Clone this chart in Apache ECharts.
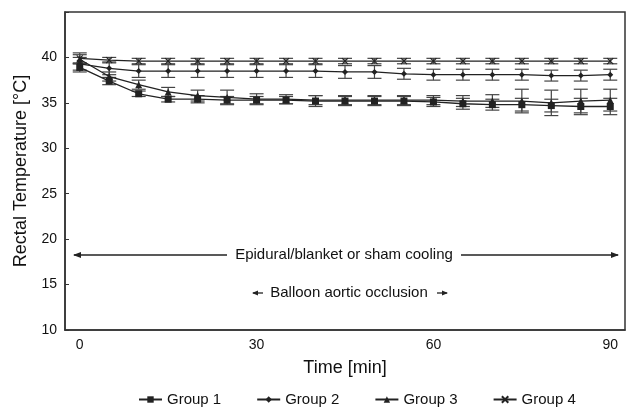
<!DOCTYPE html>
<html>
<head>
<meta charset="utf-8">
<script src="https://cdn.jsdelivr.net/npm/echarts@6/dist/echarts.min.js"></script>
<style>
  html, body { margin: 0; padding: 0; background: #fff; }
  #main { width: 630px; height: 407px; }
</style>
</head>
<body>
<div id="main"></div>
<script>
// time points (min)
var times = ['0', '5', '10', '15', '20', '25', '30', '35', '40', '45', '50', '55', '60', '65', '70', '75', '80', '85', '90'];

// mean rectal temperature per group
var group1 = [38.9, 37.4, 36.0, 35.4, 35.4, 35.3, 35.3, 35.3, 35.2, 35.2, 35.2, 35.2, 35.1, 34.9, 34.8, 34.8, 34.7, 34.6, 34.6];
var group2 = [39.3, 38.8, 38.5, 38.5, 38.5, 38.5, 38.5, 38.5, 38.5, 38.4, 38.4, 38.2, 38.1, 38.1, 38.1, 38.1, 38.0, 38.0, 38.1];
var group3 = [39.8, 37.9, 37.0, 36.2, 35.8, 35.6, 35.4, 35.4, 35.3, 35.3, 35.3, 35.3, 35.3, 35.2, 35.2, 35.2, 35.0, 35.2, 35.3];
var group4 = [39.9, 39.7, 39.6, 39.6, 39.6, 39.6, 39.6, 39.6, 39.6, 39.6, 39.6, 39.6, 39.6, 39.6, 39.6, 39.6, 39.6, 39.6, 39.6];

// standard deviations (error bars)
var sd1 = [0.5, 0.4, 0.3, 0.3, 0.4, 0.4, 0.4, 0.4, 0.6, 0.5, 0.5, 0.5, 0.5, 0.6, 0.6, 0.7, 0.7, 0.9, 0.9];
var sd2 = [0.7, 0.7, 0.7, 0.7, 0.7, 0.7, 0.7, 0.7, 0.7, 0.7, 0.7, 0.6, 0.6, 0.6, 0.6, 0.6, 0.6, 0.6, 0.6];
var sd3 = [0.5, 0.5, 0.5, 0.5, 0.6, 0.8, 0.6, 0.5, 0.5, 0.5, 0.5, 0.5, 0.5, 0.6, 0.7, 1.3, 1.4, 1.3, 1.2];
var sd4 = [0.6, 0.3, 0.3, 0.3, 0.3, 0.3, 0.3, 0.3, 0.3, 0.3, 0.3, 0.3, 0.3, 0.3, 0.3, 0.3, 0.3, 0.3, 0.3];

var yTicks = [10, 15, 20, 25, 30, 35, 40];

var ink = '#222';
var font = 'Liberation Sans, Arial, sans-serif';
var chart = echarts.init(document.getElementById('main'));

function errData(mean, sd) {
  var out = [];
  for (var i = 0; i < mean.length; i++) {
    out.push([i, mean[i] - sd[i], mean[i] + sd[i]]);
  }
  return out;
}

// vertical bar with caps
function renderErr(params, api) {
  var lo = api.coord([api.value(0), api.value(1)]);
  var hi = api.coord([api.value(0), api.value(2)]);
  var w = 7;
  var st = { stroke: '#444', lineWidth: 1.2 };
  return {
    type: 'group',
    children: [
      { type: 'line', shape: { x1: lo[0], y1: lo[1], x2: hi[0], y2: hi[1] }, style: st },
      { type: 'line', shape: { x1: lo[0] - w, y1: lo[1], x2: lo[0] + w, y2: lo[1] }, style: st },
      { type: 'line', shape: { x1: hi[0] - w, y1: hi[1], x2: hi[0] + w, y2: hi[1] }, style: st }
    ]
  };
}

function errSeries(mean, sd) {
  return {
    type: 'custom',
    renderItem: renderErr,
    data: errData(mean, sd),
    encode: { x: 0, y: [1, 2] },
    silent: true,
    z: 1
  };
}

function lineSeries(name, data, symbol, size, extra) {
  var s = {
    name: name,
    type: 'line',
    data: data,
    symbol: symbol,
    symbolSize: size,
    showAllSymbol: true,
    lineStyle: { color: ink, width: 1.3 },
    itemStyle: { color: ink },
    z: 3
  };
  if (extra) Object.assign(s, extra);
  return s;
}

var option = {
  backgroundColor: '#fff',
  animation: false,
  textStyle: { fontFamily: font, color: '#111' },
  grid: {
    left: 65, right: 5, top: 12, bottom: 77,
    show: true, borderColor: '#333', borderWidth: 1.5
  },
  legend: {
    top: 387,
    left: 133,
    itemWidth: 23,
    itemHeight: 8,
    itemGap: 35,
    textStyle: { fontFamily: font, fontSize: 15, color: '#111' },
    data: ['Group 1', 'Group 2', 'Group 3', 'Group 4']
  },
  xAxis: {
    type: 'category',
    data: times,
    boundaryGap: true,
    name: 'Time [min]',
    nameLocation: 'middle',
    nameGap: 29,
    nameTextStyle: { fontFamily: font, fontSize: 18, color: '#111' },
    axisLine: { lineStyle: { color: '#333', width: 1.5 } },
    axisTick: { inside: true, length: 4, interval: 0, lineStyle: { color: '#333' } },
    axisLabel: { interval: 5, fontSize: 14, color: '#111', margin: 8 }
  },
  yAxis: {
    type: 'value',
    min: 10,
    max: 45,
    interval: 5,
    name: 'Rectal Temperature [\u00B0C]',
    nameLocation: 'middle',
    nameGap: 31,
    nameTextStyle: { fontFamily: font, fontSize: 18, color: '#111' },
    axisLine: { show: true, lineStyle: { color: '#333', width: 1.5 } },
    axisTick: { show: true, inside: true, length: 4, lineStyle: { color: '#333' } },
    splitLine: { show: false },
    axisLabel: {
      fontSize: 14, color: '#111', margin: 8,
      formatter: function (v) { return yTicks.indexOf(v) >= 0 ? String(v) : ''; }
    }
  },
  graphic: [
    // Epidural/blanket or sham cooling arrow
    { type: 'line', shape: { x1: 74, y1: 255, x2: 227, y2: 255 }, style: { stroke: ink, lineWidth: 1.3 } },
    { type: 'line', shape: { x1: 461, y1: 255, x2: 618, y2: 255 }, style: { stroke: ink, lineWidth: 1.3 } },
    { type: 'polygon', shape: { points: [[73, 255], [81, 252], [81, 258]] }, style: { fill: ink } },
    { type: 'polygon', shape: { points: [[619, 255], [611, 252], [611, 258]] }, style: { fill: ink } },
    { type: 'text', x: 344, y: 255, style: { text: 'Epidural/blanket or sham cooling', font: '15px ' + font, fill: '#111', align: 'center', verticalAlign: 'middle' } },
    // Balloon aortic occlusion arrows
    { type: 'line', shape: { x1: 253, y1: 293, x2: 263, y2: 293 }, style: { stroke: ink, lineWidth: 1.3 } },
    { type: 'polygon', shape: { points: [[252, 293], [258, 290.5], [258, 295.5]] }, style: { fill: ink } },
    { type: 'line', shape: { x1: 437, y1: 293, x2: 447, y2: 293 }, style: { stroke: ink, lineWidth: 1.3 } },
    { type: 'polygon', shape: { points: [[448, 293], [442, 290.5], [442, 295.5]] }, style: { fill: ink } },
    { type: 'text', x: 349, y: 293, style: { text: 'Balloon aortic occlusion', font: '15px ' + font, fill: '#111', align: 'center', verticalAlign: 'middle' } }
  ],
  series: [
    errSeries(group1, sd1),
    errSeries(group2, sd2),
    errSeries(group3, sd3),
    errSeries(group4, sd4),
    lineSeries('Group 1', group1, 'rect', 7),
    lineSeries('Group 2', group2, 'diamond', 6),
    lineSeries('Group 3', group3, 'triangle', 7),
    lineSeries('Group 4', group4, 'path://M0,0L10,10M10,0L0,10', 6, {
      itemStyle: { color: 'none', borderColor: ink, borderWidth: 1.2 }
    })
  ]
};

chart.setOption(option);
</script>
</body>
</html>
